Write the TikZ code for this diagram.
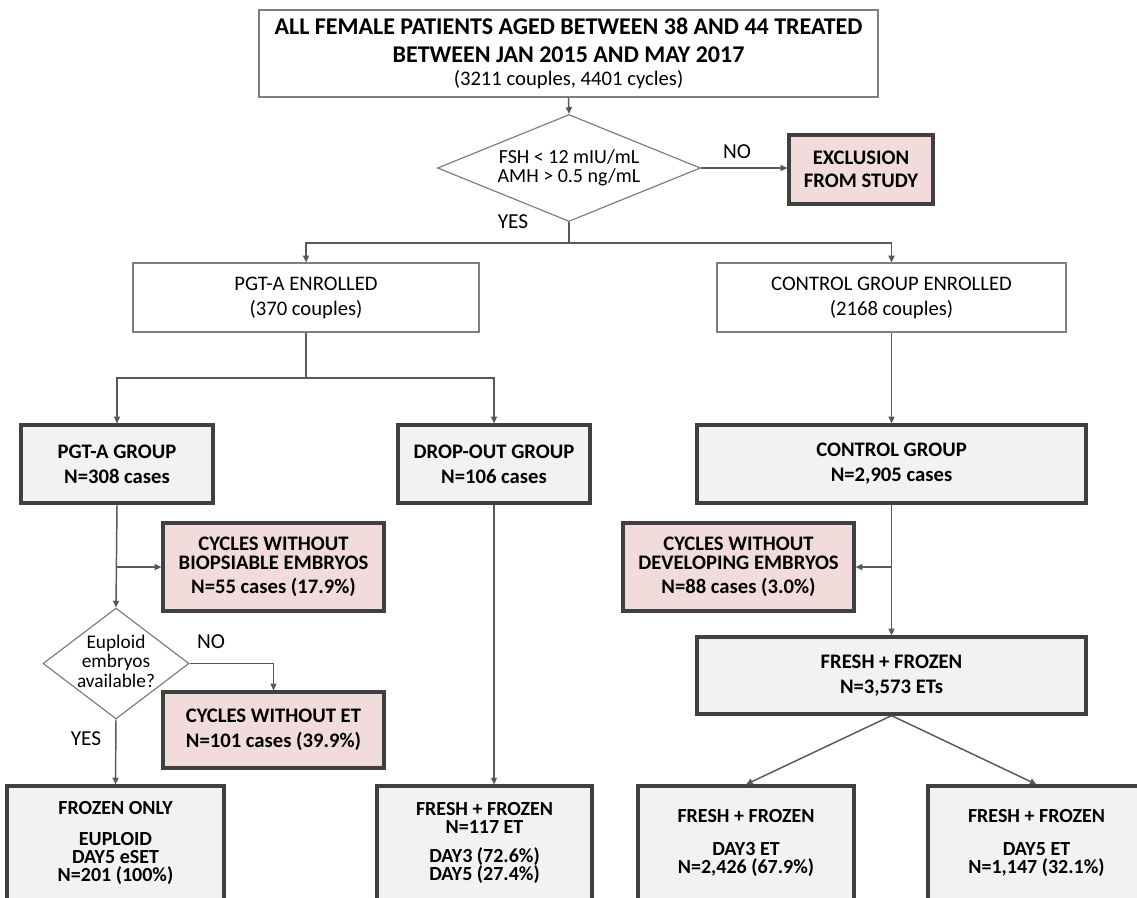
\documentclass[tikz,border=0pt]{standalone}
\usepackage{fontspec}
\setmainfont{Carlito}
\usepackage{tikz}
\usetikzlibrary{shapes.geometric,arrows.meta}

\definecolor{boxgray}{HTML}{F2F2F2}
\definecolor{boxpink}{HTML}{F2DCDB}
\definecolor{edgedark}{HTML}{404040}
\definecolor{edgethin}{HTML}{7F7F7F}
\definecolor{linegray}{HTML}{595959}

\begin{document}
\begin{tikzpicture}[x=0.75pt,y=-0.75pt,
        thinbox/.style={draw=edgethin, line width=0.9pt, fill=white, inner sep=0pt, align=center, font=\fontsize{15.5}{18.75}\selectfont},
        graybox/.style={draw=edgedark, line width=2.4pt, fill=boxgray, inner sep=0pt, align=center, font=\bfseries\fontsize{15.5}{18.75}\selectfont},
        pinkbox/.style={graybox, fill=boxpink, font=\bfseries\fontsize{15.5}{14.5}\selectfont},
        endbox/.style={graybox, font=\bfseries\fontsize{15}{13.6}\selectfont, minimum height=85.5pt},
        decision/.style={diamond, draw=edgethin, line width=0.9pt, fill=white, inner sep=0pt},
        conn/.style={draw=linegray, line width=1.1pt},
        arr/.style={conn, -{Triangle[length=5pt,width=4.5pt]}},
        lbl/.style={font=\fontsize{16}{19}\selectfont}]
        \useasboundingbox (0,0) rectangle (1137,897);
        \clip (0,0) rectangle (1137,897);

        \node[thinbox, font=\fontsize{18}{21}\selectfont, minimum width=464.25pt, minimum height=65.25pt] (top) at (568.5,53.5)
            {\textbf{ALL FEMALE PATIENTS AGED BETWEEN 38 AND 44 TREATED}\\ \textbf{BETWEEN JAN 2015 AND MAY 2017}\\[-3.75pt] {\fontsize{15.5}{17}\selectfont (3211 couples, 4401 cycles)}};
        \node[decision, minimum width=197.25pt, minimum height=80.25pt] (d1) at (569,168) {};
        \node[align=center, font=\fontsize{15}{14}\selectfont] (d1text) at (d1) {FSH < 12 mIU/mL\\AMH > 0.5 ng/mL};
        \node[pinkbox, font=\bfseries\fontsize{15.5}{17}\selectfont, minimum width=108pt, minimum height=51.75pt] (excl) at (861,169.5) {EXCLUSION\\FROM STUDY};
        \node[lbl] (no1) at (737,152) {NO};
        \node[lbl] (yes1) at (513,222) {YES};

        \node[thinbox, minimum width=259.5pt, minimum height=51.75pt] (enr1) at (306,297.5) {PGT-A ENROLLED\\(370 couples)};
        \node[thinbox, minimum width=261.75pt, minimum height=51.75pt] (enr2) at (891.5,297.5) {CONTROL GROUP ENROLLED\\(2168 couples)};

        \node[graybox, minimum width=144pt, minimum height=58.5pt] (grp1) at (117,464) {PGT-A GROUP\\N=308 cases};
        \node[graybox, minimum width=144pt, minimum height=58.5pt] (drop) at (494,464) {DROP-OUT GROUP\\N=106 cases};
        \node[graybox, minimum width=291.75pt, minimum height=58.5pt] (ctrl) at (891.5,464) {CONTROL GROUP\\N=2,905 cases};

        \node[pinkbox, minimum width=165.75pt, minimum height=66pt] (biop) at (273.5,567) {CYCLES WITHOUT\\BIOPSIABLE EMBRYOS\\[3.5pt]N=55 cases (17.9\%)};
        \node[pinkbox, minimum width=173.25pt, minimum height=66pt] (dev) at (738.5,567) {CYCLES WITHOUT\\DEVELOPING EMBRYOS\\[3.5pt]N=88 cases (3.0\%)};

        \node[decision, minimum width=109.5pt, minimum height=83.25pt] (d2) at (116,663.5) {};
        \node[align=center, font=\fontsize{14.5}{14.6}\selectfont] (d2text) at (116,661) {Euploid\\embryos\\available?};
        \node[lbl] (no2) at (211,642) {NO};
        \node[lbl] (yes2) at (86,739) {YES};
        \node[graybox, fill=boxpink, minimum width=165.75pt, minimum height=57pt] (noet) at (273.5,730) {CYCLES WITHOUT ET\\N=101 cases (39.9\%)};

        \node[graybox, minimum width=291.75pt, minimum height=57.75pt] (f3573) at (891.5,675.5) {FRESH + FROZEN\\N=3,573 ETs};

        \node[endbox, minimum width=162.75pt] (frozen) at (115.5,843) {FROZEN ONLY\\[9.5pt]EUPLOID\\DAY5 eSET\\N=201 (100\%)};
        \node[endbox, minimum width=161.25pt] (f117) at (484.5,843) {FRESH + FROZEN\\N=117 ET\\[7.5pt]DAY3 (72.6\%)\\DAY5 (27.4\%)};
        \node[endbox, minimum width=162pt] (day3) at (746,843) {FRESH + FROZEN\\[11pt]DAY3 ET\\N=2,426 (67.9\%)};
        \node[endbox, minimum width=162.75pt] (day5) at (1036.5,843) {FRESH + FROZEN\\[11pt]DAY5 ET\\N=1,147 (32.1\%)};

        \draw[arr] (top.south) -- (d1.north);
        \draw[arr] (d1.east) -- (d1.east -| excl.west);
        \coordinate (split1) at (569,243);
        \draw[conn] (d1.south) -- (split1);
        \draw[arr] (split1) -| (enr1.north);
        \draw[arr] (split1) -| (enr2.north);
        \coordinate (split2) at (306,378);
        \draw[conn] (enr1.south) -- (split2);
        \draw[arr] (split2) -| (grp1.north);
        \draw[arr] (split2) -| (drop.north);
        \draw[arr] (grp1.south) -- (d2.north);
        \draw[arr] (grp1.south |- biop.west) -- (biop.west);
        \draw[arr] (d2.east) -| (noet.north);
        \draw[arr] (d2.south) -- (frozen.north);
        \draw[arr] (drop.south) -- (drop.south |- f117.north);
        \draw[arr] (enr2.south) -- (ctrl.north);
        \draw[arr] (ctrl.south) -- (f3573.north);
        \draw[arr] (ctrl.south |- dev.east) -- (dev.east);
        \draw[arr] (f3573.south) -- (day3.north);
        \draw[arr] (f3573.south) -- (day5.north);
    \end{tikzpicture}
\end{document}
